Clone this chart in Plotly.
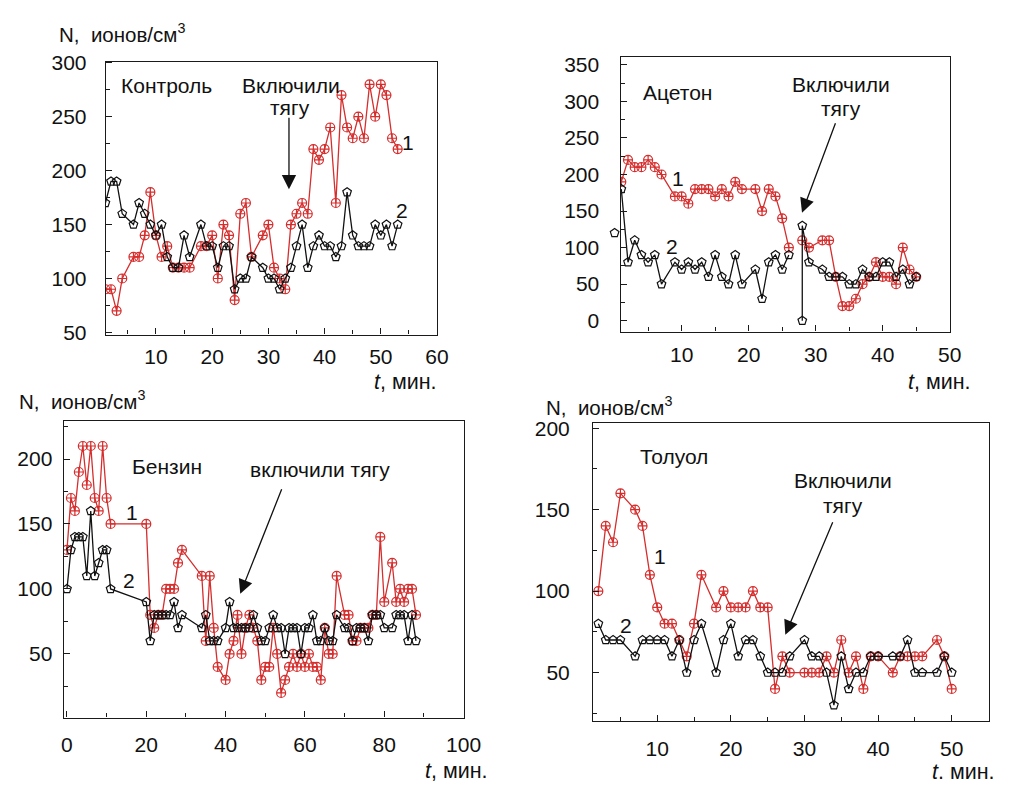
import plotly.graph_objects as go

# ---------------- DATA ----------------
# Panel 1: Контроль
ctrl_t = [1, 2, 3, 4, 6, 7, 8, 9, 10, 11, 12, 13, 14, 15, 16, 18, 19, 20, 21, 22, 23, 24, 25, 26, 27,
          29, 30, 31, 32, 33, 34, 35, 36, 37, 38, 39, 40, 41, 42, 43, 44, 45, 46, 47, 48, 49, 50, 51, 52, 53]
ctrl_1 = [90, 90, 70, 100, 120, 120, 140, 180, 140, 120, 130, 110, 110, 110, 110, 130, 130, 140, 100, 150,
          140, 80, 160, 170, 120, 140, 150, 110, 100, 90, 150, 160, 170, 160, 220, 210, 220, 240, 170, 270,
          240, 230, 250, 230, 280, 250, 280, 270, 230, 220]
ctrl_2 = [170, 190, 190, 160, 150, 170, 160, 150, 140, 150, 120, 110, 110, 140, 120, 150, 130, 130, 110, 130,
          130, 90, 100, 100, 120, 110, 100, 100, 90, 100, 110, 130, 150, 110, 130, 140, 130, 130, 120, 130,
          180, 140, 130, 130, 130, 150, 140, 150, 130, 150]

# Panel 2: Ацетон
acet_t1 = [1, 2, 3, 4, 5, 6, 7, 9, 10, 11, 12, 13, 14, 15, 16, 17, 18, 19, 21, 22, 23, 24, 25, 26, None,
           28, 29, 31, 32, 33, 34, 35, 36, 37, 38, 39, 40, 41, 42, 43, 44, 45]
acet_1 = [190, 220, 210, 210, 220, 210, 200, 170, 170, 160, 180, 180, 180, 170, 180, 170, 190, 180, 180, 150,
          180, 170, 140, 100, None, 110, 100, 110, 110, 60, 20, 20, 30, 50, 60, 80, 60, 60, 50, 100, 70, 60]
acet_t2 = [1, 2, 3, 4, 5, 6, 7, 9, 10, 11, 12, 13, 14, 15, 16, 17, 18, 19, 21, 22, 23, 24, 25, 26, None,
           28, 28, 29, 31, 32, 33, 34, 35, 36, 37, 38, 39, 40, 41, 42, 43, 44, 45]
acet_2 = [180, 80, 110, 90, 80, 90, 50, 80, 70, 80, 70, 80, 60, 90, 60, 50, 90, 50, 70, 30, 80, 90, 70, 90,
          None, 0, 130, 80, 70, 60, 60, 60, 50, 50, 70, 60, 60, 80, 80, 60, 70, 50, 60]
acet_extra_t = [0]
acet_extra_2 = [120]

# Panel 3: Бензин
benz_t = [0, 1, 2, 3, 4, 5, 6, 7, 8, 9, 10, 11, 20, 21, 22, 23, 24, 25, 26, 27, 28, 29, 34, 35, 36, 37, 38,
          40, 41, 42, 43, 44, 45, 46, 47, 48, 49, 50, 51, 52, 53, 54, 55, 56, 57, 58, 59, 60, 61, 62, 63,
          64, 65, 66, 67, 68, 70, 71, 72, 73, 74, 75, 76, 77, 78, 79, 80, 82, 83, 84, 85, 86, 87, 88]
benz_1 = [130, 170, 160, 190, 210, 180, 210, 170, 160, 210, 170, 150,
          150, 80, 70, 80, 80, 100, 100, 100, 120, 130,
          110, 60, 110, 70, 40,
          30, 50, 60, 80, 50, 70, 80, 70, 60, 30, 40, 40, 70, 50, 20, 30, 40, 50, 40, 50, 40, 50, 40, 40,
          30, 70, 50, 50, 110,
          80, 80, 60, 60, 70, 70, 70, 80, 80, 140, 90,
          120, 90, 100, 90, 100, 100, 80]
benz_2 = [100, 130, 140, 140, 140, 110, 160, 110, 120, 130, 130, 100,
          90, 60, 80, 80, 80, 80, 80, 90, 70, 80,
          70, 80, 60, 60, 60,
          70, 90, 70, 70, 70, 70, 70, 80, 70, 60, 60, 70, 80, 70, 70, 50, 70, 70, 70, 50, 70, 70, 80, 60,
          60, 70, 60, 60, 80,
          70, 70, 60, 70, 70, 70, 60, 80, 80, 80, 70,
          70, 80, 80, 80, 60, 80, 60]

# Panel 4: Толуол
tol_t = [2, 3, 4, 5, 7, 8, 9, 10, 11, 12, 13, 14, 15, 16, 18, 19, 20, 21, 22, 23, 24, 25, 26, 27, 28,
         30, 31, 32, 33, 34, 35, 36, 37, 38, 39, 40, 42, 43, 44, 45, 46, 48, 49, 50]
tol_1 = [100, 140, 130, 160, 150, 140, 110, 90, 80, 80, 70, 60, 80, 110,
         90, 100, 90, 90, 90, 100, 90, 90, 40, 60, 50,
         50, 50, 50, 60, 50, 70, 50, 60, 40, 60, 60,
         50, 60, 60, 60, 60, 70, 60, 40]
tol_2 = [80, 70, 70, 70, 60, 70, 70, 70, 70, 60, 70, 50, 70, 80,
         50, 70, 80, 60, 70, 70, 60, 50, 50, 50, 60,
         70, 60, 60, 50, 30, 60, 40, 50, 50, 60, 60,
         60, 60, 70, 50, 50, 50, 60, 50]

# ---------------- STYLE ----------------
W, H = 1019, 788
FONT = "Liberation Sans, Arial, Helvetica, sans-serif"
RED = "#d62d2d"
BLK = "#111111"
AXC = "#1a1a1a"
MSIZE = 9


def px(x):
    return x / W


def py(y):
    return 1 - y / H


fig = go.Figure()


def red_trace(t, n, xa, ya):
    return go.Scatter(x=t, y=n, mode="lines+markers", xaxis=xa, yaxis=ya,
                      line=dict(color=RED, width=1.3),
                      marker=dict(symbol="circle-cross-open", size=MSIZE, color=RED, line=dict(width=1.2)),
                      showlegend=False)


def blk_trace(t, n, xa, ya, mode="lines+markers"):
    return go.Scatter(x=t, y=n, mode=mode, xaxis=xa, yaxis=ya,
                      line=dict(color=BLK, width=1.3),
                      marker=dict(symbol="pentagon-open", size=MSIZE, color=BLK, line=dict(width=1.2)),
                      showlegend=False)


fig.add_trace(red_trace(ctrl_t, ctrl_1, "x", "y"))
fig.add_trace(blk_trace(ctrl_t, ctrl_2, "x", "y"))
fig.add_trace(red_trace(acet_t1, acet_1, "x2", "y2"))
fig.add_trace(blk_trace(acet_t2, acet_2, "x2", "y2"))
# stray point drawn just left of the acetone frame: hidden helper x axis with the same scale
fig.add_trace(blk_trace(acet_extra_t, acet_extra_2, "x5", "y2", mode="markers"))
fig.add_trace(red_trace(benz_t, benz_1, "x3", "y3"))
fig.add_trace(blk_trace(benz_t, benz_2, "x3", "y3"))
fig.add_trace(red_trace(tol_t, tol_1, "x4", "y4"))
fig.add_trace(blk_trace(tol_t, tol_2, "x4", "y4"))

TSIZE = 21
tickfont = dict(family=FONT, size=TSIZE, color="#111")


def xax(dom, rng, dtick, minor, standoff):
    return dict(domain=[px(dom[0]), px(dom[1])], range=rng, dtick=dtick, tick0=0,
                ticks="inside", ticklen=6, tickwidth=1.2, tickcolor=AXC,
                minor=dict(dtick=minor, ticks="inside", ticklen=4, tickwidth=1.1, tickcolor=AXC),
                showline=True, linecolor=AXC, linewidth=1.4, mirror=True,
                showgrid=False, zeroline=False, tickfont=tickfont, ticklabelstandoff=standoff)


def yax(dom, rng, standoff):
    return dict(domain=[py(dom[1]), py(dom[0])], range=rng, dtick=50, tick0=0,
                ticks="inside", ticklen=6, tickwidth=1.2, tickcolor=AXC,
                minor=dict(dtick=25, ticks="inside", ticklen=4, tickwidth=1.1, tickcolor=AXC),
                showline=True, linecolor=AXC, linewidth=1.4, mirror=True,
                showgrid=False, zeroline=False, tickfont=tickfont, ticklabelstandoff=standoff)


# acetone x scale: 0.9 at px 630, 50.05 at px 966
a_lo, a_hi, a_l, a_r = 0.9, 50.05, 630, 966
a_scale = (a_r - a_l) / (a_hi - a_lo)
x5_left = 612
x5_lo = a_lo - (a_l - x5_left) / a_scale

fig.update_layout(
    width=W, height=H, margin=dict(l=0, r=0, t=0, b=0),
    paper_bgcolor="white", plot_bgcolor="rgba(0,0,0,0)",
    font=dict(family=FONT, size=TSIZE, color="#111"),
    xaxis=xax((105, 443), [1.1, 60.05], 10, 5, 3),
    yaxis=yax((52, 332), [48, 301], 14),
    xaxis2=dict(xax((a_l, a_r), [a_lo, a_hi], 10, 5, 4), anchor="y2"),
    yaxis2=dict(yax((47, 329), [-15, 361], 16), anchor="x2"),
    xaxis3=dict(xax((62, 470), [-0.8, 100.05], 20, 10, 8), anchor="y3"),
    yaxis3=dict(yax((421, 725), [1, 229], 6), anchor="x3"),
    xaxis4=dict(xax((602, 1006), [1.3, 55.1], 10, 5, 8), anchor="y4"),
    yaxis4=dict(yax((423, 729), [20, 203], 18), anchor="x4"),
    xaxis5=dict(domain=[px(x5_left), px(a_r)], range=[x5_lo, a_hi], anchor="y2",
                visible=False, showgrid=False, zeroline=False, showline=False),
)

ann = []


def text(x, y, s, xanchor="center", size=21):
    ann.append(dict(x=px(x), y=py(y), xref="paper", yref="paper", text=s, showarrow=False,
                    xanchor=xanchor, yanchor="middle", font=dict(family=FONT, size=size, color="#111")))


def arrow(x0, y0, x1, y1):
    ann.append(dict(x=px(x1), y=py(y1), xref="paper", yref="paper", text="",
                    showarrow=True, ax=x0 - x1, ay=y0 - y1, axref="pixel", ayref="pixel",
                    arrowhead=2, arrowsize=2.2, arrowwidth=1.3, arrowcolor="#111", standoff=0))


NLAB = "N,  ионов/см<sup>3</sup>"
TLAB = "<i>t</i>, мин."

# axis titles
text(55, 23, NLAB, "left", 20.5)
text(376, 381, TLAB, "left", 21.5)
text(921, 381, TLAB, "left", 21.5)
text(14, 399, NLAB, "left", 20.5)
text(428, 780, TLAB, "left", 21.5)
text(552, 405, NLAB, "left", 20.5)
text(1014, 781, "<i>t</i>. мин.", "right", 21.5)

# panel 1
text(167, 76, "Контроль")
text(294, 76, "Включили")
text(293, 99, "тягу")
arrow(291.7, 110, 291.7, 183)
text(413, 135, "1")
text(407, 205, "2")

# panel 2
text(688, 84, "Ацетон")
text(855, 75, "Включили")
text(855, 100, "тягу")
arrow(849, 116, 815, 207)
text(689, 172, "1")
text(682, 242, "2")

# panel 3
text(167, 467, "Бензин")
text(323, 470, "включили тягу")
arrow(284, 492, 242, 598)
text(132, 515, "1")
text(129, 584, "2")

# panel 4
text(684, 457, "Толуол")
text(857, 482, "Включили")
text(857, 507, "тягу")
arrow(846, 526, 798, 640)
text(670, 560, "1")
text(635, 631, "2")

fig.update_layout(annotations=ann)

fig.write_html("out.html")
